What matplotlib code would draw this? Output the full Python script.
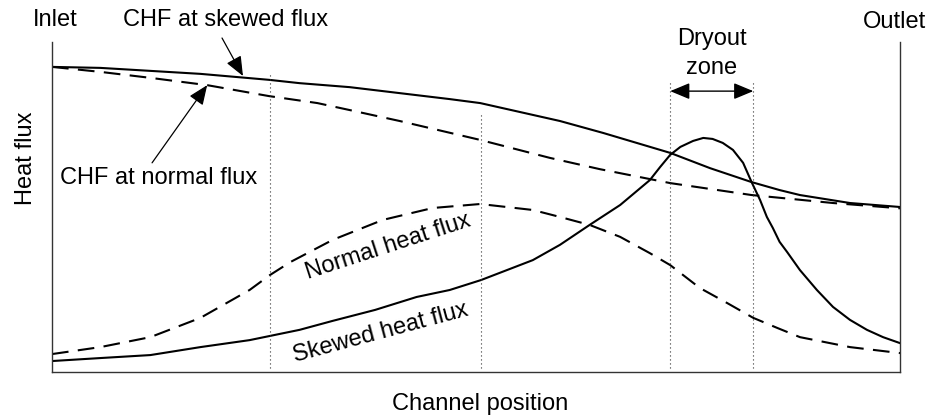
import matplotlib
matplotlib.use("Agg")
import matplotlib.pyplot as plt

# Posição no canal (0 = entrada, 1 = saída) e fluxo de calor normalizado
chf_skewed_x = [0, 0.057, 0.116, 0.175, 0.256, 0.292, 0.351, 0.410, 0.469, 0.505,
                0.552, 0.599, 0.650, 0.729, 0.776, 0.825, 0.858, 0.882, 0.941, 1.0]
chf_skewed_y = [0.919, 0.916, 0.907, 0.898, 0.880, 0.870, 0.858, 0.840, 0.822, 0.810,
                0.783, 0.756, 0.720, 0.660, 0.614, 0.572, 0.548, 0.533, 0.509, 0.497]

chf_normal_x = [0, 0.057, 0.116, 0.183, 0.256, 0.313, 0.351, 0.410, 0.505, 0.587,
                0.646, 0.729, 0.825, 0.921, 1.0]
chf_normal_y = [0.919, 0.904, 0.886, 0.864, 0.831, 0.810, 0.789, 0.756, 0.699, 0.645,
                0.611, 0.569, 0.533, 0.509, 0.493]

normal_flux_x = [0, 0.057, 0.116, 0.175, 0.233, 0.257, 0.281, 0.331, 0.390, 0.449,
                 0.505, 0.567, 0.599, 0.634, 0.670, 0.705, 0.729, 0.764, 0.796, 0.827,
                 0.855, 0.882, 0.941, 1.0]
normal_flux_y = [0.054, 0.075, 0.105, 0.163, 0.247, 0.292, 0.331, 0.398, 0.458, 0.494,
                 0.506, 0.488, 0.467, 0.443, 0.407, 0.358, 0.322, 0.253, 0.208, 0.163,
                 0.133, 0.105, 0.075, 0.057]

skewed_flux_x = [0, 0.057, 0.116, 0.175, 0.233, 0.292, 0.331, 0.381, 0.430, 0.469,
                 0.506, 0.567, 0.599, 0.634, 0.670, 0.705, 0.717, 0.729, 0.741, 0.756,
                 0.768, 0.779, 0.791, 0.803, 0.815, 0.825, 0.835, 0.843, 0.850, 0.858,
                 0.867, 0.882, 0.902, 0.921, 0.941, 0.961, 0.980, 1.0]
skewed_flux_y = [0.033, 0.042, 0.051, 0.075, 0.096, 0.127, 0.154, 0.187, 0.226, 0.247,
                 0.277, 0.337, 0.383, 0.443, 0.503, 0.578, 0.617, 0.654, 0.678, 0.696,
                 0.705, 0.702, 0.690, 0.669, 0.630, 0.572, 0.518, 0.467, 0.434, 0.392,
                 0.361, 0.307, 0.247, 0.196, 0.157, 0.127, 0.105, 0.087]

# Linhas pontilhadas de referência (posição, altura do topo)
guide_x = [0.257, 0.506, 0.729, 0.827]
guide_top = [0.904, 0.780, 0.873, 0.873]
dryout_start, dryout_end = 0.729, 0.827

plt.rcParams['font.family'] = ['Liberation Sans', 'DejaVu Sans']
FS = 17

fig = plt.figure(figsize=(9.35, 4.2), dpi=100)
ax = fig.add_axes([52 / 935, 48 / 420, 848 / 935, 330 / 420])
ax.set_xlim(0, 1)
ax.set_ylim(0, 330 / 332)

dash = (0, (8, 4.5))
ax.plot(chf_skewed_x, chf_skewed_y, color='black', lw=1.5)
ax.plot(chf_normal_x, chf_normal_y, color='black', lw=1.5, linestyle=dash)
ax.plot(normal_flux_x, normal_flux_y, color='black', lw=1.5, linestyle=dash)
ax.plot(skewed_flux_x, skewed_flux_y, color='black', lw=1.5)

for gx, gt in zip(guide_x, guide_top):
    ax.plot([gx, gx], [0.012, gt], color='#333333', lw=0.8, linestyle=(0, (1, 2.6)))

# Setas
head = '-|>,head_length=0.6,head_width=0.25'
ax.annotate('', xy=(0.2252, 0.8916), xytext=(0.2005, 1.006),
            arrowprops=dict(arrowstyle=head, mutation_scale=20, lw=0.9, color='black',
                            shrinkA=0, shrinkB=0), annotation_clip=False)
ax.annotate('', xy=(0.183, 0.864), xytext=(0.118, 0.630),
            arrowprops=dict(arrowstyle=head, mutation_scale=20, lw=0.9, color='black',
                            shrinkA=0, shrinkB=0))
ax.annotate('', xy=(dryout_start, 0.846), xytext=(dryout_end, 0.846),
            arrowprops=dict(arrowstyle='<|-|>,head_length=0.6,head_width=0.25',
                            mutation_scale=20, lw=1.0, color='black',
                            shrinkA=0, shrinkB=0))

# Textos
ax.text(0.0035, 1.060, 'Inlet', ha='center', va='center', fontsize=FS, clip_on=False)
ax.text(0.084, 1.060, 'CHF at skewed flux', ha='left', va='center', fontsize=FS, clip_on=False)
ax.text(0.993, 1.054, 'Outlet', ha='center', va='center', fontsize=FS, clip_on=False)
ax.text(0.778, 1.003, 'Dryout', ha='center', va='center', fontsize=FS)
ax.text(0.778, 0.916, 'zone', ha='center', va='center', fontsize=FS)
ax.text(0.0094, 0.584, 'CHF at normal flux', ha='left', va='center', fontsize=FS)
ax.text(0.396, 0.377, 'Normal heat flux', ha='center', va='center', fontsize=FS, rotation=18)
ax.text(0.387, 0.117, 'Skewed heat flux', ha='center', va='center', fontsize=FS, rotation=15)
ax.text(-0.031, 0.645, 'Heat flux', ha='center', va='center', fontsize=FS, rotation=90,
        clip_on=False)
ax.text(0.505, -0.096, 'Channel position', ha='center', va='center', fontsize=FS,
        clip_on=False)

ax.set_xticks([])
ax.set_yticks([])
ax.spines['top'].set_visible(False)
for s in ['left', 'right', 'bottom']:
    ax.spines[s].set_color('#333333')
    ax.spines[s].set_linewidth(1.0)

fig.savefig('out.png', dpi=100)
